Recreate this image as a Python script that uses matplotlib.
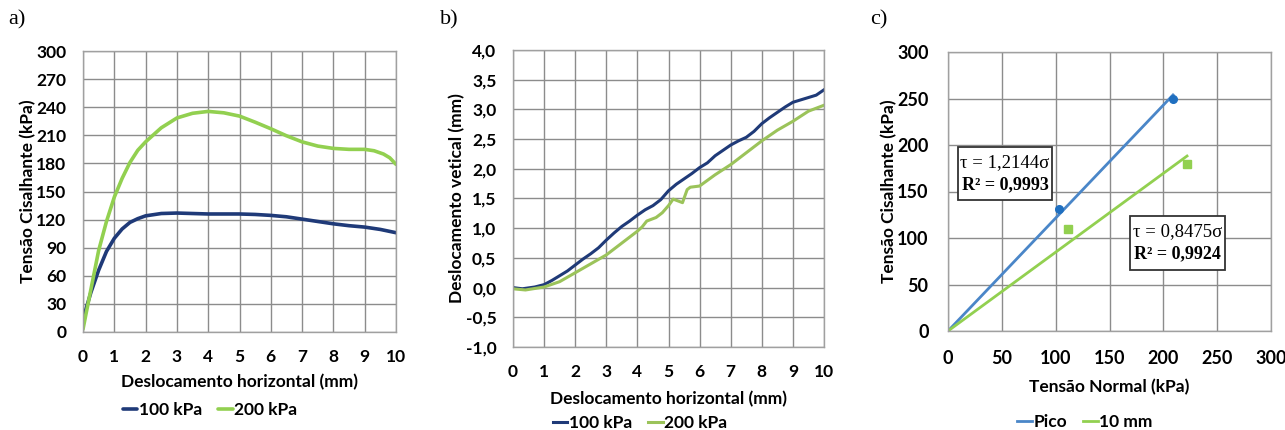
import matplotlib
matplotlib.use("Agg")
import matplotlib.pyplot as plt
from matplotlib.patches import Rectangle
from matplotlib.ticker import FuncFormatter

# ---------------- data ----------------
# a) shear stress vs horizontal displacement
x_a_100 = [0, 0.1, 0.25, 0.5, 0.75, 1, 1.25, 1.5, 1.75, 2, 2.5, 3, 3.5, 4, 4.5, 5,
           5.5, 6, 6.5, 7, 7.5, 8, 8.5, 9, 9.5, 10]
tau_100 = [12, 25, 42, 66, 86, 100, 110, 117, 121, 124, 126.5, 127, 126.5, 126, 126, 126,
           125.5, 124.5, 123, 120.5, 118, 115.5, 113.5, 112, 109.5, 106]
x_a_200 = [0, 0.1, 0.25, 0.5, 0.75, 1, 1.25, 1.5, 1.75, 2, 2.5, 3, 3.5, 4, 4.5, 5,
           5.5, 6, 6.5, 7, 7.5, 8, 8.5, 9, 9.3, 9.6, 9.8, 10]
tau_200 = [3, 20, 45, 87, 118, 144, 164, 181, 194, 203, 218, 228.5, 233.5, 235.5, 234, 230.5,
           224, 217, 209.5, 203, 198.5, 196, 195, 195, 193.5, 190, 186, 179]

# b) vertical vs horizontal displacement
x_b_100 = [0, 0.3, 0.7, 1, 1.25, 1.5, 1.75, 2, 2.25, 2.5, 2.75, 3, 3.25, 3.5, 3.75, 4,
           4.25, 4.5, 4.75, 5, 5.25, 5.5, 5.75, 6, 6.25, 6.5, 6.75, 7, 7.25, 7.5, 7.75,
           8, 8.25, 8.5, 8.75, 9, 9.25, 9.5, 9.75, 10]
v_100 = [0, -0.02, 0.01, 0.05, 0.12, 0.2, 0.28, 0.38, 0.48, 0.57, 0.67, 0.8, 0.92, 1.03,
         1.12, 1.22, 1.31, 1.38, 1.48, 1.63, 1.74, 1.83, 1.92, 2.02, 2.1, 2.22, 2.31, 2.4,
         2.47, 2.53, 2.63, 2.76, 2.86, 2.95, 3.04, 3.12, 3.16, 3.2, 3.24, 3.33]
x_b_200 = [0, 0.4, 1, 1.5, 2, 2.5, 3, 3.5, 4, 4.15, 4.3, 4.6, 4.8, 5, 5.15, 5.3, 5.45,
           5.6, 5.7, 6, 6.5, 7, 7.5, 8, 8.5, 9, 9.5, 10]
v_200 = [-0.02, -0.04, 0.01, 0.1, 0.25, 0.4, 0.55, 0.75, 0.95, 1.02, 1.12, 1.18, 1.26,
         1.38, 1.49, 1.46, 1.43, 1.65, 1.69, 1.71, 1.9, 2.07, 2.27, 2.47, 2.65, 2.8,
         2.97, 3.07]

# c) failure envelopes
sigma_pico = [103, 209]
tau_pico = [131, 250]
sigma_10mm = [111, 222]
tau_10mm = [110, 180]
slope_pico = 1.2144
slope_10mm = 0.8475
r2_pico = "0,9993"
r2_10mm = "0,9924"

# ---------------- styling ----------------
W, H = 1285, 430
NAVY = "#1f3a78"
GREEN_A = "#92d050"
GREEN_B = "#9bc35a"
BLUE_C = "#4a86c8"
BLUE_PT = "#1f6fc0"
GRID = "#8c8c8c"
SANS = ["Lato", "DejaVu Sans"]
SERIF = ["Liberation Serif", "DejaVu Serif"]
WEIGHT = "bold"

plt.rcParams["font.family"] = SANS

fig = plt.figure(figsize=(W / 100, H / 100), dpi=100)


def px_axes(left, top, right, bottom):
    return fig.add_axes([left / W, 1 - bottom / H, (right - left) / W, (bottom - top) / H])


def style(ax, size=12.5, pad=11):
    ax.grid(True, color=GRID, linewidth=1.0)
    ax.set_axisbelow(True)
    for s in ax.spines.values():
        s.set_color("#a0a0a0")
        s.set_linewidth(1.0)
    ax.tick_params(length=0, labelsize=size, pad=pad)
    for lab in ax.get_xticklabels() + ax.get_yticklabels():
        lab.set_fontweight(WEIGHT)


def comma(v, _):
    return f"{v:.1f}".replace(".", ",")


legend_kw = dict(loc="center", bbox_transform=fig.transFigure, ncol=2, frameon=False,
                 handlelength=0.85, handletextpad=0.1, columnspacing=0.9,
                 prop={"weight": WEIGHT, "size": 12.5})

# ---- a)
axa = px_axes(83, 51, 396, 332)
axa.plot(x_a_100, tau_100, color=NAVY, lw=2.6, label="100 kPa", solid_capstyle="round")
axa.plot(x_a_200, tau_200, color=GREEN_A, lw=2.6, label="200 kPa", solid_capstyle="round")
axa.set_xlim(0, 10)
axa.set_ylim(0, 300)
axa.set_xticks(range(0, 11))
axa.set_yticks(range(0, 301, 30))
style(axa, pad=12)
axa.set_xlabel("Deslocamento horizontal (mm)", fontsize=12.5, fontweight=WEIGHT, labelpad=7)
axa.set_ylabel("Tensão Cisalhante (kPa)", fontsize=12.5, fontweight=WEIGHT, labelpad=0)
axa.legend(bbox_to_anchor=(210 / W, 1 - 410 / H), **legend_kw)

# ---- b)
axb = px_axes(513, 50, 824, 347)
axb.plot(x_b_100, v_100, color=NAVY, lw=2.2, label="100 kPa")
axb.plot(x_b_200, v_200, color=GREEN_B, lw=2.2, label="200 kPa")
axb.set_xlim(0, 10)
axb.set_ylim(-1.0, 4.0)
axb.set_xticks(range(0, 11))
axb.set_yticks([-1.0 + 0.5 * i for i in range(11)])
axb.yaxis.set_major_formatter(FuncFormatter(comma))
style(axb, pad=12)
axb.set_xlabel("Deslocamento horizontal (mm)", fontsize=12.5, fontweight=WEIGHT, labelpad=8)
axb.set_ylabel("Deslocamento vetical (mm)", fontsize=12.5, fontweight=WEIGHT, labelpad=0)
axb.legend(bbox_to_anchor=(640 / W, 1 - 423 / H), **legend_kw)

# ---- c)
axc = px_axes(948, 52, 1271, 331)
axc.plot([0, sigma_pico[-1]], [0, slope_pico * sigma_pico[-1]], color=BLUE_C, lw=2.0, label="Pico")
axc.plot([0, sigma_10mm[-1]], [0, slope_10mm * sigma_10mm[-1]], color=GREEN_A, lw=2.0, label="10 mm")
axc.plot(sigma_pico, tau_pico, "o", color=BLUE_PT, ms=5.5, zorder=4)
axc.plot(sigma_10mm, tau_10mm, "s", color=GREEN_A, ms=5.5, zorder=4)
axc.set_xlim(0, 300)
axc.set_ylim(0, 300)
axc.set_xticks(range(0, 301, 50))
axc.set_yticks(range(0, 301, 50))
style(axc, size=13, pad=14)
axc.set_xlabel("Tensão Normal (kPa)", fontsize=12.5, fontweight=WEIGHT, labelpad=8)
axc.set_ylabel("Tensão Cisalhante (kPa)", fontsize=12.5, fontweight=WEIGHT, labelpad=0)
axc.legend(bbox_to_anchor=(1085 / W, 1 - 422 / H), **legend_kw)


def equation_box(ax, x0, y0, x1, y1, slope, r2):
    ax.add_patch(Rectangle((x0, y0), x1 - x0, y1 - y0, facecolor="white",
                           edgecolor="#333333", linewidth=1.3, zorder=5))
    xm = (x0 + x1) / 2
    ax.text(xm, y0 + 0.71 * (y1 - y0), f"τ = {slope:.4f}σ".replace(".", ","),
            family=SERIF, fontsize=13.5, ha="center", va="center", zorder=6)
    ax.text(xm, y0 + 0.29 * (y1 - y0), "R² = " + r2,
            family=SERIF, fontsize=13, fontweight="bold", ha="center", va="center", zorder=6)


equation_box(axc, 9.3, 141, 96.6, 198, slope_pico, r2_pico)
equation_box(axc, 169, 66, 257, 124, slope_10mm, r2_10mm)

# panel letters
for x, letter in [(8, "a)"), (440, "b)"), (870, "c)")]:
    fig.text(x / W, 1 - 20 / H, letter, family=SERIF, fontsize=16, ha="left", va="center")

fig.savefig("out.png", dpi=100, facecolor="white")
